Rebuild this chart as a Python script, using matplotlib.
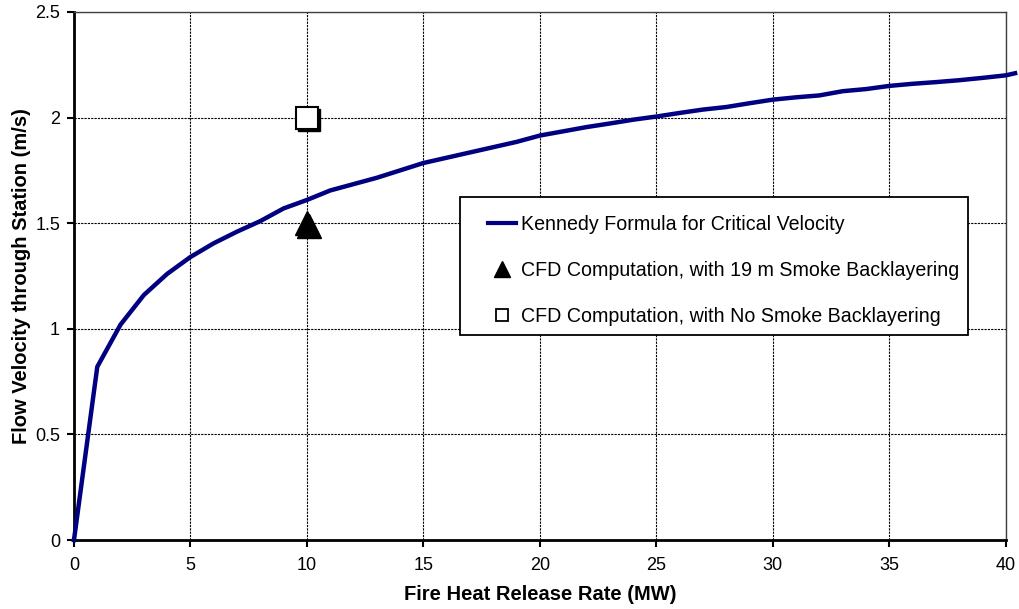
import matplotlib
matplotlib.use("Agg")
import matplotlib.pyplot as plt
import matplotlib.transforms as mtransforms
from matplotlib.lines import Line2D
from matplotlib.patches import Rectangle

plt.rcParams["font.family"] = ["Liberation Sans", "DejaVu Sans"]

# Kennedy formula curve
hrr = [0, 1, 2, 3, 4, 5, 6, 7, 8, 9, 10, 11, 12, 13, 14, 15, 16, 17, 18, 19, 20,
       21, 22, 23, 24, 25, 26, 27, 28, 29, 30, 31, 32, 33, 34, 35, 36, 37, 38, 39, 40, 40.4]
vel = [0, 0.82, 1.02, 1.16, 1.26, 1.34, 1.405, 1.46, 1.51, 1.57, 1.61, 1.655, 1.685,
       1.715, 1.75, 1.785, 1.81, 1.835, 1.86, 1.885, 1.915, 1.935, 1.955, 1.972, 1.99,
       2.005, 2.022, 2.038, 2.05, 2.068, 2.085, 2.096, 2.105, 2.125, 2.135, 2.15, 2.16,
       2.168, 2.177, 2.188, 2.20, 2.21]

# CFD points
cfd_back_x = [10]
cfd_back_y = [1.5]
cfd_noback_x = [10]
cfd_noback_y = [2.0]

xticks = [0, 5, 10, 15, 20, 25, 30, 35, 40]
yticks = [0, 0.5, 1, 1.5, 2, 2.5]
ytick_labels = ["0", "0.5", "1", "1.5", "2", "2.5"]

navy = "#000080"

fig = plt.figure(figsize=(10.19, 6.09), dpi=100)
ax = fig.add_axes([0.0726, 0.1133, 0.9144, 0.867])

ax.plot(hrr, vel, color=navy, lw=3.2, clip_on=False, zorder=3)

# shadow for the markers
shadow = mtransforms.offset_copy(ax.transData, fig=fig, x=2.5, y=-2.5, units="dots")
ax.plot(cfd_back_x, cfd_back_y, "^", color="black", ms=17, transform=shadow, zorder=4)
ax.plot(cfd_back_x, cfd_back_y, "^", color="black", ms=17, zorder=5)
ax.plot(cfd_noback_x, cfd_noback_y, "s", color="black", ms=16, transform=shadow, zorder=4)
ax.plot(cfd_noback_x, cfd_noback_y, "s", mfc="white", mec="black", mew=1.5, ms=16, zorder=5)

ax.set_xlim(0, 40)
ax.set_ylim(0, 2.5)
ax.set_xticks(xticks)
ax.set_yticks(yticks)
ax.set_yticklabels(ytick_labels)
ax.tick_params(direction="out", length=5, width=1.5, labelsize=13, colors="black")
ax.tick_params(axis="x", pad=7)
ax.tick_params(axis="y", pad=5)

ax.grid(True, color="black", linestyle=(0, (2, 1)), lw=0.8)
ax.set_axisbelow(True)
for s in ["left", "bottom"]:
    ax.spines[s].set_linewidth(2)
    ax.spines[s].set_color("black")
for s in ["top", "right"]:
    ax.spines[s].set_linewidth(1)
    ax.spines[s].set_color("#404040")

ax.set_xlabel("Fire Heat Release Rate (MW)", fontsize=14.5, fontweight="bold", labelpad=8)
ax.set_ylabel("Flow Velocity through Station (m/s)", fontsize=14.5, fontweight="bold", labelpad=3)

# legend box drawn on its own so the padding can match
ax.add_patch(Rectangle((0.4142, 0.3883), 0.545, 0.2613, transform=ax.transAxes,
                       facecolor="white", edgecolor="black", lw=1.3, zorder=6))

handles = [
    Line2D([], [], color=navy, lw=3),
    Line2D([], [], marker="^", color="black", ls="none", ms=11),
    Line2D([], [], marker="s", mfc="white", mec="black", mew=1.3, ls="none", ms=8),
]
labels = [
    "Kennedy Formula for Critical Velocity",
    "CFD Computation, with 19 m Smoke Backlayering",
    "CFD Computation, with No Smoke Backlayering",
]
leg = ax.legend(handles, labels, loc="upper left", bbox_to_anchor=(0.4442, 0.615),
                fontsize=14.1, frameon=False, borderpad=0, labelspacing=1.38,
                handlelength=1.45, handletextpad=0.25, borderaxespad=0)
leg.set_zorder(7)

fig.savefig("out.png", dpi=100)
